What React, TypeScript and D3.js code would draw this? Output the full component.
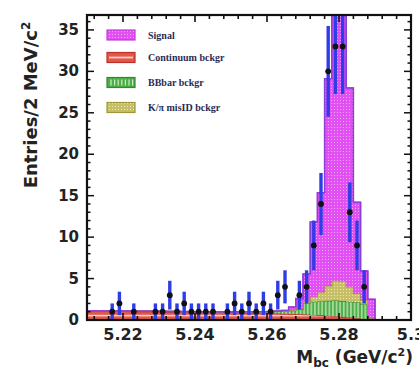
import * as React from "react";
import * as d3 from "d3";

// M_bc histogram, 2 MeV bins from 5.21 to 5.30 GeV
const X_MIN = 5.21;
const X_MAX = 5.3;
const BIN_WIDTH = 0.002;
const Y_MAX = 36.8;

const X_TICKS = [5.22, 5.24, 5.26, 5.28, 5.3];
const X_TICK_LABELS = ["5.22", "5.24", "5.26", "5.28", "5.3"];
const Y_TICKS = [0, 5, 10, 15, 20, 25, 30, 35];

// entries per bin (data points)
const dataCounts = [
  0, 0, 0, 1, 2, 0, 1, 0, 0, 1,
  1, 3, 1, 2, 1, 1, 1, 1, 0, 1,
  2, 1, 2, 1, 2, 1, 3, 4, 0, 3,
  4, 9, 14, 30, 33, 33, 13, 9, 4, 0,
  0, 0, 0, 0, 0,
];

// fit components (stacked, bottom to top)
const continuum = [
  1.05, 1.05, 1.05, 1.04, 1.04, 1.03, 1.03, 1.02, 1.02, 1.01,
  1.0, 0.99, 0.98, 0.97, 0.96, 0.95, 0.94, 0.93, 0.92, 0.9,
  0.89, 0.87, 0.86, 0.84, 0.82, 0.8, 0.78, 0.75, 0.72, 0.69,
  0.65, 0.61, 0.56, 0.51, 0.45, 0.38, 0.3, 0.21, 0.1, 0,
  0, 0, 0, 0, 0,
];
const bbbar = [
  0.05, 0.05, 0.05, 0.05, 0.05, 0.05, 0.05, 0.05, 0.05, 0.05,
  0.05, 0.05, 0.05, 0.05, 0.05, 0.05, 0.06, 0.06, 0.07, 0.08,
  0.1, 0.12, 0.14, 0.16, 0.18, 0.2, 0.25, 0.3, 0.4, 0.6,
  1.4, 1.6, 1.7, 1.8, 1.9, 1.9, 1.9, 1.9, 1.8, 0.2,
  0, 0, 0, 0, 0,
];
const misid = [
  0, 0, 0, 0, 0, 0, 0, 0, 0, 0,
  0, 0, 0, 0, 0, 0, 0, 0, 0, 0,
  0, 0, 0, 0, 0, 0, 0, 0, 0.05, 0.1,
  0.2, 0.6, 1.1, 1.8, 2.4, 2.4, 1.8, 1.1, 0.5, 0,
  0, 0, 0, 0, 0,
];
const signal = [
  0, 0, 0, 0, 0, 0, 0, 0, 0, 0,
  0, 0, 0, 0, 0, 0, 0, 0, 0, 0,
  0, 0, 0, 0, 0, 0.02, 0.05, 0.1, 0.4, 1.2,
  3.3, 9, 12, 25, 37, 37, 24, 11, 3.5, 2.3,
  0, 0, 0, 0, 0,
];

const LEGEND_LABELS = ["Signal", "Continuum bckgr", "BBbar bckgr", "K/\u03c0 misID bckgr"];

const COLORS = {
  signal: { base: "#e24ff2", light: "#f3a8f8", line: "#c43ad8" },
  continuum: { base: "#e0574b", light: "#f7d0c6", line: "#c0302a" },
  bbbar: { base: "#4fae4a", light: "#d9f1cb", line: "#2e8a2e" },
  misid: { base: "#c6bf66", light: "#eeeabd", line: "#9e983a" },
  total: "#8a3fd6",
  err: "#2f3de6",
};

const W = 419;
const H = 372;
const M = { left: 87, right: 411, top: 15, bottom: 320 };

export default function App() {
  const ref = React.useRef<SVGSVGElement | null>(null);

  React.useEffect(() => {
    if (!ref.current) return;
    const svg = d3.select(ref.current);
    svg.selectAll("*").remove();
    svg.attr("width", W).attr("height", H);

    const x = d3.scaleLinear().domain([X_MIN, X_MAX]).range([M.left, M.right]);
    const y = d3.scaleLinear().domain([0, Y_MAX]).range([M.bottom, M.top]);

    const n = dataCounts.length;
    const edges = d3.range(n + 1).map((i) => X_MIN + i * BIN_WIDTH);

    const defs = svg.append("defs");
    defs.append("clipPath").attr("id", "plot-clip")
      .append("rect")
      .attr("x", M.left).attr("y", M.top)
      .attr("width", M.right - M.left).attr("height", M.bottom - M.top);

    // fill patterns
    const dotPattern = (id: string, base: string, light: string) => {
      const p = defs.append("pattern").attr("id", id).attr("patternUnits", "userSpaceOnUse")
        .attr("width", 3).attr("height", 3);
      p.append("rect").attr("width", 3).attr("height", 3).attr("fill", base);
      p.append("rect").attr("x", 1).attr("y", 1).attr("width", 1).attr("height", 1).attr("fill", light);
    };
    dotPattern("pat-signal", COLORS.signal.base, COLORS.signal.light);
    dotPattern("pat-misid", COLORS.misid.base, COLORS.misid.light);

    const cp = defs.append("pattern").attr("id", "pat-cont").attr("patternUnits", "userSpaceOnUse")
      .attr("width", 8).attr("height", 8);
    cp.append("rect").attr("width", 8).attr("height", 8).attr("fill", COLORS.continuum.base);
    cp.append("rect").attr("y", 2.8).attr("width", 8).attr("height", 1.6).attr("fill", COLORS.continuum.light);

    const bp = defs.append("pattern").attr("id", "pat-bb").attr("patternUnits", "userSpaceOnUse")
      .attr("width", 3.6).attr("height", 4);
    bp.append("rect").attr("width", 3.6).attr("height", 4).attr("fill", COLORS.bbbar.base);
    bp.append("rect").attr("x", 1.2).attr("width", 1.1).attr("height", 4).attr("fill", COLORS.bbbar.light);

    // stack components
    const layers = [
      { values: continuum, fill: "url(#pat-cont)", line: COLORS.continuum.line },
      { values: bbbar, fill: "url(#pat-bb)", line: COLORS.bbbar.line },
      { values: misid, fill: "url(#pat-misid)", line: COLORS.misid.line },
      { values: signal, fill: "url(#pat-signal)", line: COLORS.signal.line },
    ];

    const plot = svg.append("g").attr("clip-path", "url(#plot-clip)");
    let below = new Array(n).fill(0);
    type Pt = { e: number; lo: number; hi: number };
    const area = d3.area<Pt>()
      .x((d) => x(d.e))
      .y0((d) => y(d.lo))
      .y1((d) => y(d.hi))
      .curve(d3.curveStepAfter);
    const top = d3.line<Pt>()
      .x((d) => x(d.e))
      .y((d) => y(d.hi))
      .curve(d3.curveStepAfter);

    layers.forEach((layer) => {
      const above = below.map((b, i) => b + layer.values[i]);
      const pts: Pt[] = edges.map((e, i) => {
        const k = Math.min(i, n - 1);
        return { e, lo: below[k], hi: above[k] };
      });
      plot.append("path").attr("d", area(pts) as string).attr("fill", layer.fill);
      plot.append("path").attr("d", top(pts) as string)
        .attr("fill", "none").attr("stroke", layer.line).attr("stroke-width", 1.2);
      below = above;
    });

    // total fit outline
    const totPts: Pt[] = edges.map((e, i) => {
      const k = Math.min(i, n - 1);
      return { e, lo: 0, hi: below[k] };
    });
    plot.append("path").attr("d", top(totPts) as string)
      .attr("fill", "none").attr("stroke", COLORS.total).attr("stroke-width", 1.5);

    // data points with sqrt(N) errors
    dataCounts.forEach((c, i) => {
      if (c <= 0) return;
      const cx = x(X_MIN + (i + 0.5) * BIN_WIDTH);
      const err = Math.sqrt(c);
      plot.append("line")
        .attr("x1", cx).attr("x2", cx)
        .attr("y1", y(c - err)).attr("y2", y(c + err))
        .attr("stroke", COLORS.err).attr("stroke-width", 3.4);
      plot.append("circle").attr("cx", cx).attr("cy", y(c)).attr("r", 2.9).attr("fill", "#111");
    });

    // frame and ticks
    const axes = svg.append("g").attr("stroke", "#111");
    axes.append("rect")
      .attr("x", M.left).attr("y", M.top)
      .attr("width", M.right - M.left).attr("height", M.bottom - M.top)
      .attr("fill", "none").attr("stroke-width", 2.2);

    const xMinor = d3.range(5.212, X_MAX + 1e-6, 0.004);
    xMinor.forEach((v) => {
      const major = X_TICKS.some((t) => Math.abs(t - v) < 1e-6);
      const len = major ? 7 : 4;
      const px = x(v);
      axes.append("line").attr("x1", px).attr("x2", px).attr("y1", M.top).attr("y2", M.top + len).attr("stroke-width", 1.6);
      axes.append("line").attr("x1", px).attr("x2", px).attr("y1", M.bottom).attr("y2", M.bottom - len).attr("stroke-width", 1.6);
    });
    d3.range(0, Y_MAX, 1).forEach((v) => {
      const major = v % 5 === 0;
      const len = major ? 7 : 3.5;
      const py = y(v);
      axes.append("line").attr("x1", M.left).attr("x2", M.left + len).attr("y1", py).attr("y2", py).attr("stroke-width", 1.5);
      axes.append("line").attr("x1", M.right).attr("x2", M.right - len).attr("y1", py).attr("y2", py).attr("stroke-width", 1.5);
    });

    const font = "'DejaVu Sans', Verdana, sans-serif";
    X_TICKS.forEach((t, i) => {
      svg.append("text").text(X_TICK_LABELS[i])
        .attr("x", x(t)).attr("y", 340)
        .attr("text-anchor", "middle")
        .attr("font-family", font).attr("font-weight", "bold").attr("font-size", 16)
        .attr("fill", "#222");
    });
    Y_TICKS.forEach((t) => {
      svg.append("text").text(String(t))
        .attr("x", 79).attr("y", y(t))
        .attr("text-anchor", "end").attr("dominant-baseline", "central")
        .attr("font-family", font).attr("font-weight", "bold").attr("font-size", 15)
        .attr("fill", "#222");
    });

    // axis titles
    const yt = svg.append("text")
      .attr("transform", "translate(37,105) rotate(-90)")
      .attr("text-anchor", "middle")
      .attr("font-family", font).attr("font-weight", "bold").attr("font-size", 18)
      .attr("fill", "#222");
    yt.append("tspan").text("Entries/2 MeV/c");
    yt.append("tspan").text("2").attr("dy", -7).attr("font-size", 12);

    const xt = svg.append("text")
      .attr("x", 413).attr("y", 363)
      .attr("text-anchor", "end")
      .attr("font-family", font).attr("font-weight", "bold").attr("font-size", 17)
      .attr("fill", "#222");
    xt.append("tspan").text("M");
    xt.append("tspan").text("bc").attr("dy", 4).attr("font-size", 12);
    xt.append("tspan").text(" (GeV/c").attr("dy", -4);
    xt.append("tspan").text("2").attr("dy", -7).attr("font-size", 11);
    xt.append("tspan").text(")").attr("dy", 7);

    // legend
    const lg = svg.append("g");
    const rowY = [35, 57.5, 82.5, 107.5];
    const bx = 107;
    const bw = 28;
    const bh = 10;
    LEGEND_LABELS.forEach((label, i) => {
      const cy = rowY[i];
      const g = lg.append("g");
      if (i === 0) {
        g.append("rect").attr("x", bx).attr("y", cy - bh / 2).attr("width", bw).attr("height", bh)
          .attr("fill", "url(#pat-signal)").attr("stroke", COLORS.signal.line).attr("stroke-width", 1.2);
      } else if (i === 1) {
        g.append("rect").attr("x", bx).attr("y", cy - bh / 2).attr("width", bw).attr("height", bh)
          .attr("fill", COLORS.continuum.base).attr("stroke", COLORS.continuum.line).attr("stroke-width", 1.2);
        g.append("line").attr("x1", bx + 2).attr("x2", bx + bw - 2).attr("y1", cy).attr("y2", cy)
          .attr("stroke", COLORS.continuum.light).attr("stroke-width", 1.8);
      } else if (i === 2) {
        g.append("rect").attr("x", bx).attr("y", cy - bh / 2).attr("width", bw).attr("height", bh)
          .attr("fill", COLORS.bbbar.base).attr("stroke", COLORS.bbbar.line).attr("stroke-width", 1.2);
        d3.range(bx + 4, bx + bw - 2, 3.6).forEach((lx) => {
          g.append("line").attr("x1", lx).attr("x2", lx).attr("y1", cy - 3).attr("y2", cy + 3)
            .attr("stroke", COLORS.bbbar.light).attr("stroke-width", 1.1);
        });
      } else {
        g.append("rect").attr("x", bx).attr("y", cy - bh / 2).attr("width", bw).attr("height", bh)
          .attr("fill", "url(#pat-misid)").attr("stroke", COLORS.misid.line).attr("stroke-width", 1.2);
      }
      g.append("text").text(label)
        .attr("x", 148).attr("y", cy)
        .attr("dominant-baseline", "central")
        .attr("font-family", "'Liberation Serif', 'Times New Roman', serif")
        .attr("font-weight", "bold").attr("font-size", 10)
        .attr("fill", "#2a2c55");
    });
  }, []);

  return (
    <svg ref={ref} style={{ position: "absolute", left: 0, top: 0, background: "#fff" }} />
  );
}
